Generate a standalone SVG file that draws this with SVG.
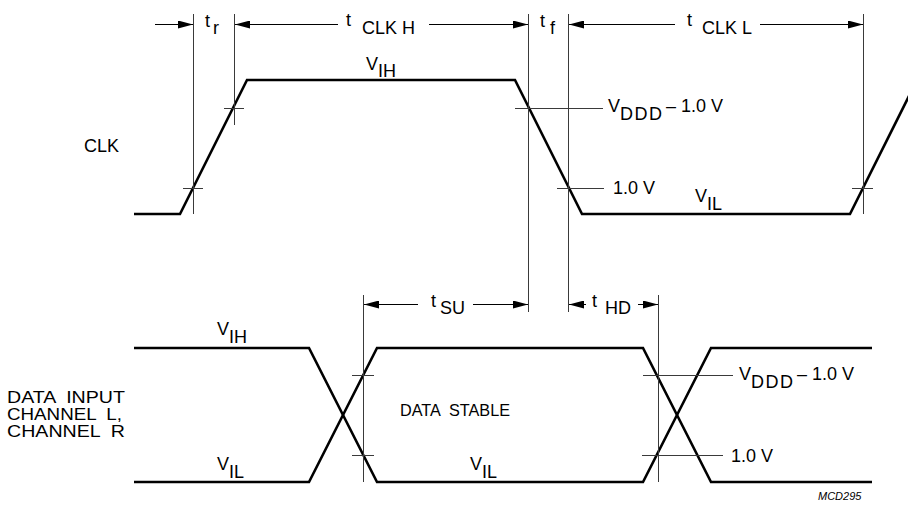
<svg xmlns="http://www.w3.org/2000/svg" width="908" height="506" viewBox="0 0 908 506">
<defs>
<marker id="ah" viewBox="0 0 15 8" refX="15" refY="4" markerWidth="15" markerHeight="8" markerUnits="userSpaceOnUse" orient="auto">
<path d="M0,0 L15,4 L0,8 Z" fill="#000"/>
</marker>
<style>
.wave{fill:none;stroke:#000;stroke-width:2.6;stroke-linejoin:miter}
.guide{fill:none;stroke:#3a3a3a;stroke-width:1}
.dim{fill:none;stroke:#000;stroke-width:1;marker-end:url(#ah)}
text{font-family:"Liberation Sans",Arial,sans-serif;font-size:18px;fill:#000}
.blk{font-size:16.5px}
.mcd{font-size:11px;font-style:italic}
</style>
</defs>
<rect width="908" height="506" fill="#fff"/>

<g id="clk-waveform">
<path class="wave" d="M134,214 H180 L247,80 H515 L582,214 H850 L915,84"/>
</g>
<g id="data-waveform">
<path class="wave" d="M134,348 H309 L377,482 H643 L711,348 H872"/>
<path class="wave" d="M134,482 H309 L377,348 H643 L711,482 H872"/>
</g>

<g id="guides">
<line class="guide" x1="193.5" y1="14" x2="193.5" y2="214"/>
<line class="guide" x1="183" y1="188.5" x2="203" y2="188.5"/>
<line class="guide" x1="234.5" y1="14" x2="234.5" y2="125"/>
<line class="guide" x1="224" y1="108.5" x2="244" y2="108.5"/>
<line class="guide" x1="528.5" y1="14" x2="528.5" y2="312"/>
<line class="guide" x1="515" y1="108.5" x2="603" y2="108.5"/>
<line class="guide" x1="568.5" y1="14" x2="568.5" y2="312"/>
<line class="guide" x1="557" y1="188.5" x2="604" y2="188.5"/>
<line class="guide" x1="863.5" y1="14" x2="863.5" y2="214"/>
<line class="guide" x1="852" y1="188.5" x2="873" y2="188.5"/>
<line class="guide" x1="363.5" y1="295" x2="363.5" y2="482"/>
<line class="guide" x1="352" y1="375.5" x2="374" y2="375.5"/>
<line class="guide" x1="352" y1="455.5" x2="374" y2="455.5"/>
<line class="guide" x1="658.5" y1="295" x2="658.5" y2="482"/>
<line class="guide" x1="643" y1="375.5" x2="733" y2="375.5"/>
<line class="guide" x1="642" y1="455.5" x2="723" y2="455.5"/>
</g>

<g id="connectors">
<line class="dim" x1="155" y1="24.5" x2="193" y2="24.5"/>
<line class="dim" x1="338" y1="24.5" x2="235" y2="24.5"/>
<line class="dim" x1="429" y1="24.5" x2="528" y2="24.5"/>
<line class="dim" x1="675" y1="24.5" x2="569" y2="24.5"/>
<line class="dim" x1="760" y1="24.5" x2="863" y2="24.5"/>
<line class="dim" x1="418" y1="304.5" x2="364" y2="304.5"/>
<line class="dim" x1="473" y1="304.5" x2="528" y2="304.5"/>
<line class="dim" x1="586" y1="304.5" x2="569" y2="304.5"/>
<line class="dim" x1="638" y1="304.5" x2="658" y2="304.5"/>
</g>

<g id="labels">
<text x="84" y="152">CLK</text>
<text x="205" y="27">t</text><text x="213" y="34">r</text>
<text x="346" y="26">t</text><text x="362" y="34">CLK H</text>
<text x="540" y="27">t</text><text x="550" y="34">f</text>
<text x="687" y="26">t</text><text x="702" y="34">CLK L</text>
<text x="366" y="70">V</text><text x="378" y="77">IH</text>
<text x="608" y="112">V</text><text x="620" y="120" textLength="42" lengthAdjust="spacing">DDD</text><text x="666" y="112">– 1.0 V</text>
<text x="613" y="194">1.0 V</text>
<text x="695" y="202">V</text><text x="707" y="210">IL</text>
<text x="431" y="307">t</text><text x="440" y="314">SU</text>
<text x="592" y="307">t</text><text x="605" y="314">HD</text>
<text x="217" y="335">V</text><text x="229" y="343">IH</text>
<text x="217" y="470">V</text><text x="229" y="478">IL</text>
<text x="470" y="470">V</text><text x="482" y="478">IL</text>
<text x="739" y="380">V</text><text x="751" y="388" textLength="42" lengthAdjust="spacing">DDD</text><text x="797" y="380">– 1.0 V</text>
<text x="731" y="462">1.0 V</text>
<text class="blk" x="7" y="403" xml:space="preserve" textLength="118" lengthAdjust="spacingAndGlyphs">DATA  INPUT</text>
<text class="blk" x="7" y="420" xml:space="preserve" textLength="115" lengthAdjust="spacingAndGlyphs">CHANNEL  L,</text>
<text class="blk" x="7" y="437" xml:space="preserve" textLength="118" lengthAdjust="spacingAndGlyphs">CHANNEL  R</text>
<text class="blk" x="400" y="416" xml:space="preserve" textLength="110" lengthAdjust="spacingAndGlyphs">DATA  STABLE</text>
<text class="mcd" x="818" y="500">MCD295</text>
</g>
</svg>
